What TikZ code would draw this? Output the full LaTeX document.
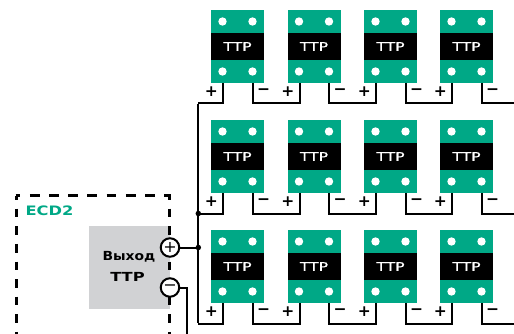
\documentclass[tikz,border=0pt]{standalone}
\usepackage{fontspec}
\setmainfont{DejaVu Sans}
\newfontfamily\widefont[FakeStretch=1.3,FakeBold=0.6]{DejaVu Sans}
\newfontfamily\widebold[FakeStretch=1.3]{DejaVu Sans Bold}
\newfontfamily\widerbold[FakeStretch=1.25]{DejaVu Sans Bold}
\newfontfamily\midbold[FakeStretch=1.11]{DejaVu Sans Bold}
\definecolor{tgreen}{HTML}{00A886}
\definecolor{tgrey}{HTML}{D1D2D4}
\tikzset{
 wire/.style={line width=2pt,black,line join=miter},
 body/.style={fill=tgreen,minimum width=53pt,minimum height=73pt,inner sep=0pt,anchor=north west},
 band/.style={fill=black,text=white,minimum width=53pt,minimum height=27pt,inner sep=0pt,font=\widefont\fontsize{12}{12}\selectfont},
 hole/.style={circle,fill=white,minimum size=8.4pt,inner sep=0pt},
 sign/.style={inner sep=0pt,font=\bfseries\fontsize{15.5}{16}\selectfont},
 port/.style={circle,draw=black,line width=2pt,fill=white,minimum size=18.5pt,inner sep=0pt,font=\fontsize{16}{16}\selectfont},
 dot/.style={circle,fill=black,minimum size=5.5pt,inner sep=0pt},
 hdash/.style={line width=2.1pt,dash pattern=on 9.8pt off 9.4pt,dash phase=4.9pt},
 vdash/.style={line width=2.1pt,dash pattern=on 8.6pt off 9pt,dash phase=4.4pt},
}
\begin{document}
\begin{tikzpicture}[x=1pt,y=-1pt]
\useasboundingbox (0,0) rectangle (514,334);
% blocks
\foreach \r/\y in {1/10,2/120,3/230}{
 \foreach \c/\x in {1/211,2/287.5,3/364,4/440}{
  \node[body] (b\r\c) at (\x,\y) {};
  \node[band] (t\r\c) at (\x+26.5,\y+36.5) {TTP};
  \node[hole] (ha\r\c) at (\x+11.5,\y+11.5) {};
  \node[hole] (hb\r\c) at (\x+41.5,\y+11.5) {};
  \node[hole] (hc\r\c) at (\x+11.5,\y+61.5) {};
  \node[hole] (hd\r\c) at (\x+41.5,\y+61.5) {};
  \coordinate (p\r\c) at (\x+12,\y+73);
  \coordinate (m\r\c) at (\x+41.5,\y+73);
  \node[sign] (sp\r\c) at (\x+0.3,\y+81.5) {+};
  \node[sign] (sm\r\c) at (\x+52.7,\y+81.5) {−};
 }
 \pgfmathsetmacro{\ry}{\y+93.5}
 \coordinate (r\r) at (198.3,\ry);
 \coordinate (e\r) at (514,\ry);
 \draw[wire] (m\r1) -- ++(0,20.5) -| (p\r2);
 \draw[wire] (m\r2) -- ++(0,20.5) -| (p\r3);
 \draw[wire] (m\r3) -- ++(0,20.5) -| (p\r4);
 \draw[wire] (m\r4) |- (e\r);
 \draw[wire] (p\r1) |- (r\r);
}
\draw[wire] ([yshift=-1pt]r1) -- ([yshift=1pt]r3);
% controller
\coordinate (dTL) at (16.5,195.5);
\coordinate (dTR) at (169.5,195.5);
\coordinate (dBL) at (16.5,334);
\coordinate (dBR) at (169.5,334);
\node[fill=tgrey,minimum width=81pt,minimum height=83pt,inner sep=0pt,anchor=north west] (out) at (89,226) {};
\draw[hdash] ([xshift=-1pt]dTL) -- ([xshift=1pt]dTR);
\draw[vdash] (dTL) -- (dBL);
\draw[vdash] (dTR) -- (dBR);
\node[inner sep=0pt,text=tgreen,font=\widerbold\fontsize{13}{13}\selectfont] (ecd) at (49.5,210.5) {ECD2};
\node[inner sep=0pt,font=\midbold\fontsize{12.5}{13}\selectfont] (l1) at (129,257) {Выход};
\node[inner sep=0pt,font=\widebold\fontsize{12.5}{13}\selectfont] (l2) at (127.5,277) {TTP};
\node[port] (pp) at (170,247.5) {+};
\node[port] (pm) at (170,287.5) {−};
\coordinate (j2) at (198.3,247.5);
\coordinate (cm) at (187,287.5);
\coordinate (cb) at (187,334);
\draw[wire] (pp) -- (j2);
\draw[wire] (pm) -- (cm) -- (cb);
\node[dot] (d1) at (r2) {};
\node[dot] (d2) at (j2) {};
\end{tikzpicture}
\end{document}
